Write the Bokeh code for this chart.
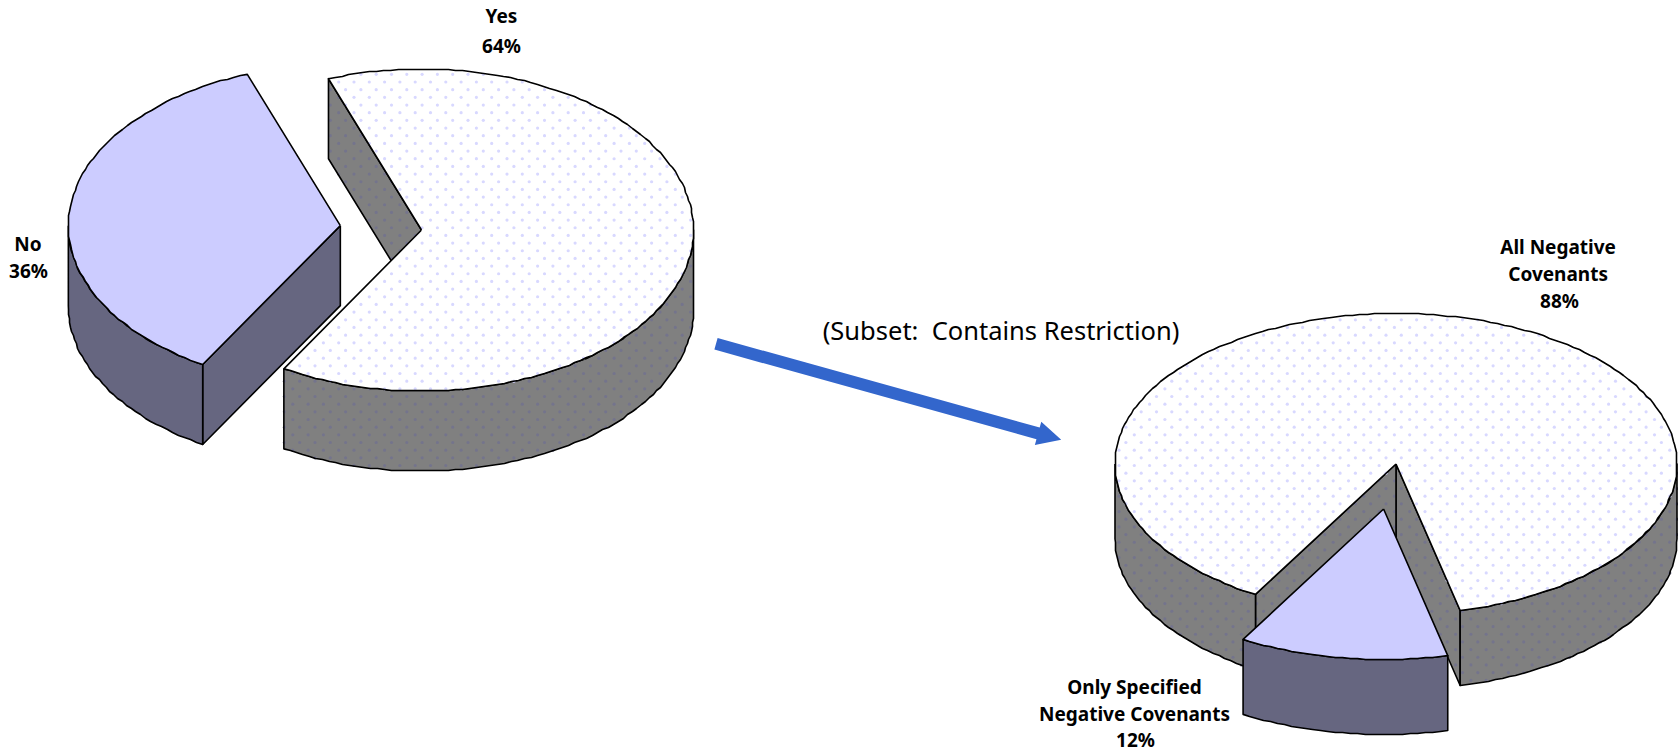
import math
from bokeh.core.properties import value
from bokeh.embed import file_html
from bokeh.models import Range1d
from bokeh.plotting import figure
from bokeh.resources import INLINE

# ---- data ----
pie1_labels = ["Yes", "No"]
pie1_values = [64, 36]
pie2_labels = ["All Negative Covenants", "Only Specified Negative Covenants"]
pie2_values = [88, 12]
subset_note = "(Subset:\u00a0\u00a0Contains Restriction)"

# ---- style ----
TOP_LIGHT, WALL_GRAY, DOT_WHITE, DOT_GRAY = "#ffffff", "#808080", "#d8d8ff", "#74748c"
TOP_BLUE, WALL_BLUE = "#ccccff", "#666680"
ARROW = "#3366cc"
FONT = "Noto Sans"

# ---- layout (page pixels) ----
PIE1 = dict(cx=421.0, cy=229.5, rx=272.0, ry=161.0, depth=80.0, start=110.0, explode=[0.0, 81.5])
PIE2 = dict(cx=1395.5, cy=463.5, rx=281.0, ry=150.5, depth=75.0, start=240.0, explode=[0.0, 85.0])
STYLES = [(TOP_LIGHT, WALL_GRAY, True), (TOP_BLUE, WALL_BLUE, False)]

p = figure(width=1678, height=752, output_backend="svg", toolbar_location=None,
           x_range=Range1d(0, 1678), y_range=Range1d(752, 0), min_border=0)
p.axis.visible = False
p.grid.visible = False
p.outline_line_color = None
p.background_fill_color = "#ffffff"


def inside(px, py, xs, ys):
    hit = False
    j = len(xs) - 1
    for i in range(len(xs)):
        if (ys[i] > py) != (ys[j] > py):
            if px < (xs[j] - xs[i]) * (py - ys[i]) / (ys[j] - ys[i]) + xs[i]:
                hit = not hit
        j = i
    return hit


def dots(xs, ys, color):
    STEP_X, STEP_Y, X0, Y0, SHIFT = 15.3, 7.67, 430.0, 342.3, 6.9
    dx, dy = [], []
    r0 = math.floor((min(ys) - Y0) / STEP_Y)
    r1 = math.ceil((max(ys) - Y0) / STEP_Y)
    for r in range(r0, r1 + 1):
        y = Y0 + r * STEP_Y
        off = X0 + (SHIFT if r % 2 else 0.0)
        c0 = math.floor((min(xs) - off) / STEP_X)
        c1 = math.ceil((max(xs) - off) / STEP_X)
        for c in range(c0, c1 + 1):
            x = off + c * STEP_X
            if inside(x, y, xs, ys):
                dx.append(x)
                dy.append(y)
    if dx:
        p.scatter(dx, dy, size=3.2, marker="circle", fill_color=color, line_color=None)


def face(xs, ys, fill, dot=None, close=True):
    p.patch(xs, ys, fill_color=fill, line_color=None)
    if dot:
        dots(xs, ys, dot)
    lx = list(xs) + ([xs[0]] if close else [])
    ly = list(ys) + ([ys[0]] if close else [])
    p.line(lx, ly, line_color="#000000", line_width=1.6, line_join="round")


def arc(cx, cy, rx, ry, a0, a1):
    # the source's curves are slightly stepped polylines: snap the samples to the pixel grid
    n = max(2, int(abs(a1 - a0) / 1.5) + 1)
    ang = [math.radians(a0 + (a1 - a0) * i / (n - 1)) for i in range(n)]
    xs, ys = [], []
    for i, a in enumerate(ang):
        x, y = cx + rx * math.cos(a), cy - ry * math.sin(a)
        if 0 < i < n - 1:
            x, y = float(round(x)), float(round(y))
        xs.append(x)
        ys.append(y)
    return xs, ys


def draw_pie(spec, values):
    order = sorted(range(len(values)), key=lambda k: spec["explode"][k])
    angle = spec["start"]
    spans = []
    for v in values:
        sweep = v / sum(values) * 360.0
        lo = angle - sweep
        lo_n = lo % 360.0
        spans.append((lo_n, lo_n + sweep))
        angle = lo
    for k in order:
        lo, hi = spans[k]
        mid = math.radians((lo + hi) / 2)
        top_c, wall_c, dotted = STYLES[k]
        e = spec["explode"][k]
        cx = spec["cx"] + e * math.cos(mid)
        cy = spec["cy"] - e * (spec["ry"] / spec["rx"]) * math.sin(mid)
        rx, ry, d = spec["rx"], spec["ry"], spec["depth"]
        dot_t = DOT_WHITE if dotted else None
        dot_w = DOT_GRAY if dotted else None
        # cut faces
        for ang, normal in ((lo, lo - 90), (hi, hi + 90)):
            if math.sin(math.radians(normal)) < 0:
                ex = cx + rx * math.cos(math.radians(ang))
                ey = cy - ry * math.sin(math.radians(ang))
                face([cx, ex, ex, cx], [cy, ey, ey + d, cy + d], wall_c, dot_w)
        # outer wall, front half only
        for w0, w1 in ((180.0, 360.0), (540.0, 720.0)):
            a0, a1 = max(lo, w0), min(hi, w1)
            if a1 > a0:
                ax, ay = arc(cx, cy, rx, ry, a0, a1)
                face(ax + ax[::-1], ay + [y + d for y in ay[::-1]], wall_c, dot_w)
        # top face
        ax, ay = arc(cx, cy, rx, ry, lo, hi)
        face([cx] + ax, [cy] + ay, top_c, dot_t)


draw_pie(PIE1, pie1_values)
draw_pie(PIE2, pie2_values)

# arrow
sx, sy, tx, ty = 715.5, 343.3, 1060.7, 439.3
L = math.hypot(tx - sx, ty - sy)
ux, uy = (tx - sx) / L, (ty - sy) / L
nx, ny = -uy, ux
hw, HW, HL = 6.0, 12.0, 24.0
bx, by = tx - ux * HL, ty - uy * HL
p.patch([sx + nx * hw, bx + nx * hw, bx + nx * HW, tx, bx - nx * HW, bx - nx * hw, sx - nx * hw],
        [sy + ny * hw, by + ny * hw, by + ny * HW, ty, by - ny * HW, by - ny * hw, sy - ny * hw],
        fill_color=ARROW, line_color=None)

# labels
BOLD = dict(text_font=value(FONT), text_font_style="bold", text_font_size="19px",
            text_color="#000000", text_align="center", text_baseline="middle")
p.text([501, 501], [15.5, 45], text=[pie1_labels[0], f"{pie1_values[0]}%"], **BOLD)
p.text([27.5, 28], [243, 270], text=[pie1_labels[1], f"{pie1_values[1]}%"], **BOLD)
p.text([1557.6, 1557.6, 1559], [246.5, 273, 300],
       text=["All Negative", "Covenants", f"{pie2_values[0]}%"], **BOLD)
p.text([1134, 1134, 1135], [686.5, 713.5, 739.5],
       text=["Only Specified", "Negative Covenants", f"{pie2_values[1]}%"], **BOLD)
p.text([1000.5], [329], text=[subset_note], text_font=value(FONT), text_font_size="25.5px",
       text_color="#000000", text_align="center", text_baseline="middle")

open("out.html", "w").write(file_html(p, INLINE))
